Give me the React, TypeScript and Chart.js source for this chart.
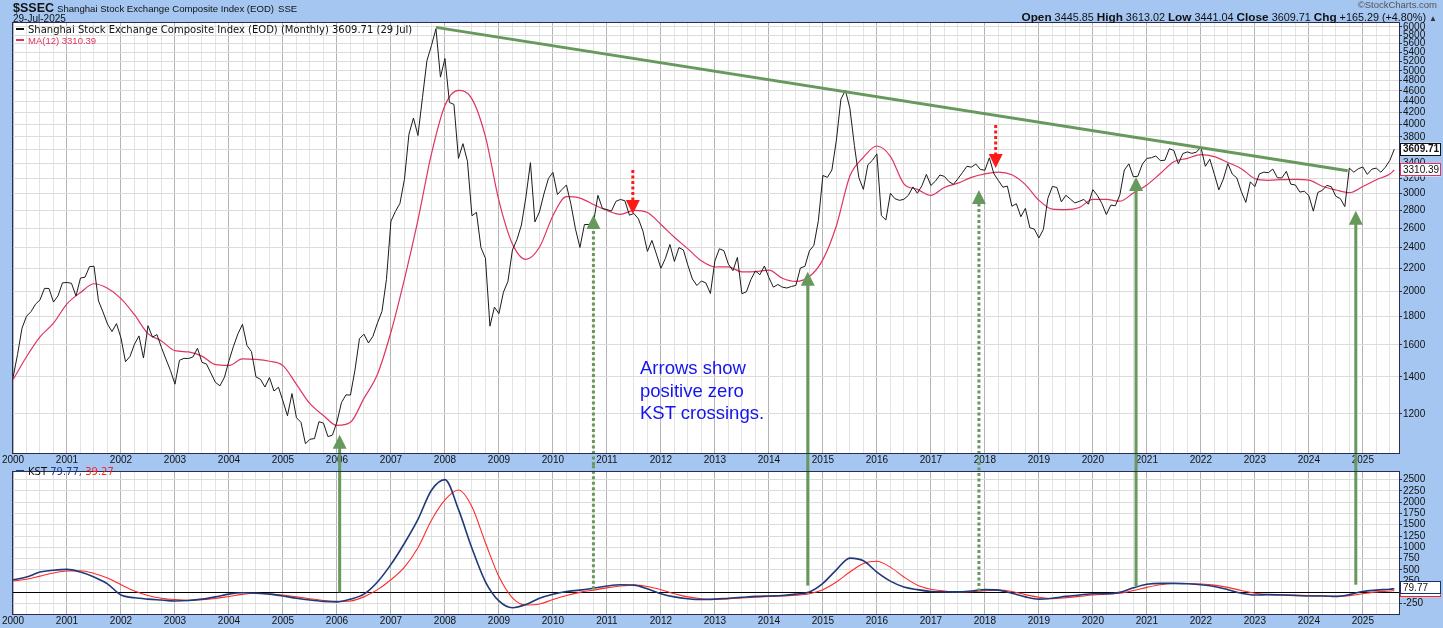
import React, { useEffect, useRef } from 'react';
import { Chart, registerables } from 'chart.js';

Chart.register(...registerables);

const SANS = '"Liberation Sans", Arial, sans-serif';
const VERD = '"DejaVu Sans", Verdana, sans-serif';

// ---------- data (monthly closes, first value = Dec 1999 close plotted on the 2000 line) ----------
const closes: number[] = [
  1395,
  1535, 1714, 1801, 1836, 1894, 1928, 2023, 2022, 1911, 1961, 2070, 2073,
  2066, 1960, 2112, 2119, 2214, 2218, 1920, 1834, 1744, 1690, 1747, 1646,
  1491, 1524, 1604, 1660, 1514, 1732, 1652, 1669, 1581, 1507, 1437, 1358,
  1500, 1512, 1511, 1521, 1577, 1487, 1477, 1421, 1368, 1349, 1398, 1497,
  1590, 1675, 1742, 1595, 1555, 1400, 1386, 1342, 1396, 1320, 1341, 1266,
  1191, 1306, 1181, 1159, 1060, 1080, 1083, 1162, 1155, 1092, 1099, 1161,
  1258, 1299, 1298, 1440, 1641, 1672, 1612, 1658, 1752, 1837, 2099, 2675,
  2786, 2881, 3183, 3841, 4109, 3820, 4471, 5218, 5552, 5955, 4871, 5262,
  4383, 4348, 3473, 3693, 3433, 2736, 2775, 2397, 2293, 1729, 1871, 1821,
  1991, 2082, 2373, 2477, 2633, 2959, 3412, 2667, 2779, 2996, 3195, 3277,
  2989, 3051, 3110, 2870, 2592, 2398, 2638, 2639, 2656, 2979, 2820, 2808,
  2790, 2905, 2928, 2912, 2743, 2762, 2701, 2568, 2359, 2469, 2333, 2199,
  2292, 2428, 2263, 2397, 2373, 2226, 2103, 2047, 2086, 2069, 1980, 2269,
  2385, 2366, 2237, 2178, 2301, 1979, 1994, 2098, 2175, 2141, 2220, 2116,
  2033, 2056, 2033, 2026, 2039, 2048, 2202, 2217, 2364, 2420, 2683, 3235,
  3210, 3310, 3748, 4442, 4612, 4277, 3664, 3206, 3053, 3383, 3445, 3539,
  2738, 2688, 3004, 2938, 2917, 2930, 2979, 3085, 3005, 3100, 3250, 3104,
  3159, 3242, 3223, 3155, 3117, 3192, 3273, 3361, 3349, 3393, 3317, 3307,
  3481, 3259, 3169, 3082, 3095, 2847, 2876, 2725, 2821, 2603, 2588, 2494,
  2585, 2941, 3091, 3078, 2899, 2979, 2933, 2886, 2905, 2929, 2871, 3050,
  2977, 2880, 2750, 2860, 2852, 2985, 3310, 3396, 3218, 3225, 3392, 3473,
  3483, 3509, 3441, 3447, 3615, 3591, 3397, 3544, 3568, 3547, 3564, 3640,
  3361, 3462, 3252, 3047, 3186, 3399, 3253, 3202, 3024, 2893, 3151, 3089,
  3256, 3280, 3273, 3323, 3205, 3202, 3291, 3120, 3110, 3019, 3030, 2975,
  2789, 3015, 3041, 3105, 3087, 2967, 2939, 2842, 3336, 3280, 3327, 3352,
  3250, 3321, 3336, 3279, 3347, 3444, 3609.71,
];

// MA(12) read at each quarter end (Dec 1999 ... Jun 2025), then the last value
const ma12: number[] = [
  1383,
  1522, 1653, 1751, 1897,
  1988, 2062, 2024, 1939,
  1813, 1676, 1626, 1561,
  1553, 1526, 1473, 1468,
  1509, 1506, 1494, 1467,
  1357, 1252, 1192, 1144,
  1159, 1280, 1415, 1687,
  2103, 2688, 3539, 4329,
  4609, 4450, 3802, 2913,
  2433, 2283, 2400, 2737,
  2962, 2945, 2868, 2796,
  2752, 2798, 2773, 2639,
  2502, 2384, 2268, 2211,
  2212, 2167, 2169, 2183,
  2110, 2082, 2125, 2280,
  2625, 3227, 3488, 3657,
  3504, 3125, 3054, 2978,
  3078, 3134, 3210, 3257,
  3281, 3244, 3114, 2920,
  2812, 2807, 2832, 2929,
  2928, 2907, 3007, 3110,
  3262, 3425, 3474, 3529,
  3499, 3414, 3328, 3193,
  3171, 3179, 3183, 3174,
  3093, 3046, 3012, 3090,
  3179, 3254,
];
const maLast = 3310.39;

// KST and its signal, read quarterly from 2000.0 to 2025.5, then the last values
const kst: number[] = [
  280, 340, 450, 490,
  510, 450, 340, 190,
  -60, -120, -150, -170,
  -190, -180, -150, -100,
  -40, -10, -20, -40,
  -80, -130, -170, -200,
  -210, -150, -40, 230,
  620, 1090, 1620, 2265,
  2500, 1840, 980, 235,
  -190, -340, -270, -130,
  -40, 20, 50, 90,
  140, 170, 160, 80,
  -30, -100, -140, -160,
  -150, -130, -110, -90,
  -80, -70, -40, 10,
  200, 500, 760, 700,
  450, 250, 120, 60,
  20, 10, 10, 30,
  60, 50, -20, -100,
  -150, -130, -90, -60,
  -30, -30, 0, 100,
  180, 200, 200, 190,
  170, 130, 60, -20,
  -60, -50, -60, -70,
  -80, -80, -90, -50,
  20, 50, 70,
];
const kstLast = 79.77;

const kstSignal: number[] = [
  250, 290, 360, 430,
  475, 480, 420, 320,
  170, 30, -70, -130,
  -160, -175, -165, -135,
  -90, -45, -20, -30,
  -60, -100, -140, -180,
  -200, -190, -100, 60,
  280, 560, 990, 1600,
  2050, 2270, 1900, 1100,
  350, -120, -280, -260,
  -160, -70, 0, 50,
  100, 140, 160, 130,
  60, -30, -100, -140,
  -155, -145, -125, -105,
  -90, -80, -65, -30,
  60, 230, 450, 640,
  690, 560, 340, 160,
  70, 30, 10, 15,
  35, 50, 20, -50,
  -110, -140, -120, -90,
  -60, -40, -20, 40,
  110, 170, 195, 195,
  185, 160, 110, 40,
  -20, -50, -55, -60,
  -70, -75, -85, -75,
  -30, 10, 30,
];
const signalLast = 39.27;

const priceTicks = [1200, 1400, 1600, 1800, 2000, 2200, 2400, 2600, 2800, 3000, 3200, 3400, 3600, 3800, 4000, 4200, 4400, 4600, 4800, 5000, 5200, 5400, 5600, 5800, 6000];
const kstTicks = [-250, 0, 250, 500, 750, 1000, 1250, 1500, 1750, 2000, 2250, 2500];

// annotations (data space)
const trendline = [
  { x: 2007.833, y: 5990 },
  { x: 2024.72, y: 3300 },
];
const upArrows = [
  { year: 2006.05, kst: 0, price: 1100, dotted: false },
  { year: 2010.75, kst: 70, price: 2746, dotted: true },
  { year: 2014.72, kst: 150, price: 2167, dotted: false },
  { year: 2017.89, kst: 20, price: 3047, dotted: true },
  { year: 2020.8, kst: 130, price: 3214, dotted: false },
  { year: 2024.87, kst: 170, price: 2793, dotted: false },
];
const downArrows = [
  { year: 2011.48, from: 3310, to: 2757 },
  { year: 2018.2, from: 3990, to: 3338 },
];

// ---------- helpers ----------
const X_MIN = 2000;
const X_MAX = 2025.67;
const monthX = (i: number) => X_MIN + i / 12;
const quarterX = (i: number) => X_MIN + i / 4;
const LAST_X = monthX(closes.length - 1);

const GREEN = '#67985c';
const ARROW_RED = '#ff1a1a';

function xAxis(height: number) {
  return {
    type: 'linear' as const,
    min: X_MIN,
    max: X_MAX,
    afterBuildTicks: (s: any) => {
      const t: any[] = [];
      for (let v = 2000; v <= 2025.5; v += 0.25) t.push({ value: v });
      s.ticks = t;
    },
    afterFit: (s: any) => {
      s.height = height;
    },
    ticks: {
      autoSkip: false,
      maxRotation: 0,
      minRotation: 0,
      padding: 1,
      color: '#111',
      font: { family: SANS, size: 10 },
      callback: (v: any) => (Number.isInteger(v) ? String(v) : ''),
    },
    grid: {
      drawTicks: false,
      color: (c: any) => (c.tick && Number.isInteger(c.tick.value) ? '#b4b4b4' : '#e3e3e3'),
    },
    border: { display: false },
  };
}

function yAxisRight(extra: any, ticks: number[]) {
  return {
    position: 'right' as const,
    ...extra,
    afterBuildTicks: (s: any) => {
      s.ticks = ticks.map((v) => ({ value: v }));
    },
    afterFit: (s: any) => {
      s.width = 44;
    },
    ticks: {
      autoSkip: false,
      padding: 1,
      color: '#111',
      font: { family: SANS, size: 10 },
      callback: (v: any) => String(v),
    },
    grid: {
      tickLength: 3,
      tickColor: '#333',
      color: (c: any) => (extra.zeroLine && c.tick && c.tick.value === 0 ? '#000' : '#dcdcdc'),
    },
    border: { display: false },
  };
}

function valueBox(ctx: CanvasRenderingContext2D, x: number, yc: number, text: string, border: string, bold: boolean) {
  const w = 41;
  const h = 13;
  ctx.save();
  ctx.fillStyle = '#fff';
  ctx.fillRect(x, yc - h / 2, w, h);
  ctx.strokeStyle = border;
  ctx.lineWidth = 1;
  ctx.strokeRect(Math.round(x) + 0.5, Math.round(yc - h / 2) + 0.5, w - 1, h - 1);
  ctx.fillStyle = '#111';
  ctx.font = `${bold ? 'bold ' : ''}10px ${SANS}`;
  ctx.textBaseline = 'middle';
  ctx.textAlign = 'left';
  ctx.fillText(text, x + 3, yc + 0.5);
  ctx.restore();
}

function vLine(ctx: CanvasRenderingContext2D, x: number, y1: number, y2: number, color: string, dotted: boolean) {
  ctx.save();
  ctx.strokeStyle = color;
  ctx.lineWidth = 3;
  ctx.setLineDash(dotted ? [3, 2.5] : []);
  ctx.beginPath();
  ctx.moveTo(x, y1);
  ctx.lineTo(x, y2);
  ctx.stroke();
  ctx.restore();
}

function head(ctx: CanvasRenderingContext2D, x: number, tip: number, dir: number, color: string) {
  // dir = 1 : pointing up, dir = -1 : pointing down
  ctx.save();
  ctx.fillStyle = color;
  ctx.beginPath();
  ctx.moveTo(x, tip);
  ctx.lineTo(x - 7, tip + dir * 14);
  ctx.lineTo(x + 7, tip + dir * 14);
  ctx.closePath();
  ctx.fill();
  ctx.restore();
}

const framePlugin = {
  id: 'frame',
  beforeDraw(chart: any) {
    const { ctx, chartArea: a } = chart;
    ctx.save();
    ctx.fillStyle = '#fff';
    ctx.fillRect(a.left, a.top, a.right - a.left, a.bottom - a.top);
    ctx.restore();
  },
  afterDraw(chart: any) {
    const { ctx, chartArea: a } = chart;
    ctx.save();
    ctx.strokeStyle = '#2c2c55';
    ctx.lineWidth = 1;
    ctx.strokeRect(Math.round(a.left) - 0.5, Math.round(a.top) - 0.5, Math.round(a.right - a.left) + 1, Math.round(a.bottom - a.top) + 1);
    ctx.restore();
  },
};

// ---------- component ----------
export default function App() {
  const topRef = useRef<HTMLCanvasElement>(null);
  const botRef = useRef<HTMLCanvasElement>(null);

  useEffect(() => {
    const priceData = closes.map((v, i) => ({ x: monthX(i), y: v }));
    const maData = [...ma12.map((v, i) => ({ x: quarterX(i), y: v })), { x: LAST_X, y: maLast }];
    const kstData = [...kst.map((v, i) => ({ x: quarterX(i), y: v })), { x: LAST_X, y: kstLast }];
    const sigData = [...kstSignal.map((v, i) => ({ x: quarterX(i), y: v })), { x: LAST_X, y: signalLast }];

    const topArrows = {
      id: 'topArrows',
      afterDatasetsDraw(chart: any) {
        const { ctx } = chart;
        const xs = chart.scales.x;
        const ys = chart.scales.y;
        for (const a of upArrows) {
          const px = xs.getPixelForValue(a.year);
          const tip = ys.getPixelForValue(a.price);
          vLine(ctx, px, chart.height, tip + 12, GREEN, a.dotted);
          head(ctx, px, tip, 1, GREEN);
        }
        for (const a of downArrows) {
          const px = xs.getPixelForValue(a.year);
          const y0 = ys.getPixelForValue(a.from);
          const tip = ys.getPixelForValue(a.to);
          vLine(ctx, px, y0, tip - 12, ARROW_RED, true);
          head(ctx, px, tip, -1, ARROW_RED);
        }
      },
      afterDraw(chart: any) {
        const { ctx, chartArea } = chart;
        const ys = chart.scales.y;
        valueBox(ctx, chartArea.right + 1, ys.getPixelForValue(maLast), maLast.toFixed(2), '#e0345f', false);
        valueBox(ctx, chartArea.right + 1, ys.getPixelForValue(closes[closes.length - 1]), closes[closes.length - 1].toFixed(2), '#111', true);
      },
    };

    const botArrows = {
      id: 'botArrows',
      afterDatasetsDraw(chart: any) {
        const { ctx } = chart;
        const xs = chart.scales.x;
        const ys = chart.scales.y;
        for (const a of upArrows) {
          const px = xs.getPixelForValue(a.year);
          vLine(ctx, px, ys.getPixelForValue(a.kst), 0, GREEN, a.dotted);
        }
      },
      afterDraw(chart: any) {
        const { ctx, chartArea } = chart;
        const ys = chart.scales.y;
        valueBox(ctx, chartArea.right + 1, ys.getPixelForValue(signalLast), '', '#ff2020', false);
        valueBox(ctx, chartArea.right + 1, ys.getPixelForValue(kstLast) - 1, kstLast.toFixed(2), '#1b2f6e', false);
      },
    };

    const top = new Chart(topRef.current!, {
      type: 'line',
      data: {
        datasets: [
          { data: trendline, borderColor: GREEN, borderWidth: 3, pointRadius: 0 },
          { data: priceData, borderColor: '#1c1c1c', borderWidth: 1, pointRadius: 0 },
          { data: maData, borderColor: '#e0345f', borderWidth: 1.2, pointRadius: 0, cubicInterpolationMode: 'monotone' },
        ] as any,
      },
      options: {
        responsive: false,
        animation: false,
        devicePixelRatio: 1,
        events: [],
        layout: { padding: { left: 13, top: 23, right: 0, bottom: 0 } },
        plugins: { legend: { display: false }, tooltip: { enabled: false } },
        scales: {
          x: xAxis(12) as any,
          y: yAxisRight({ type: 'logarithmic', min: 1020, max: 6100 }, priceTicks) as any,
        },
      },
      plugins: [framePlugin, topArrows],
    });

    const bot = new Chart(botRef.current!, {
      type: 'line',
      data: {
        datasets: [
          { data: kstData, borderColor: '#1f3a78', borderWidth: 1.6, pointRadius: 0, cubicInterpolationMode: 'monotone' },
          { data: sigData, borderColor: '#ff2a2a', borderWidth: 1.1, pointRadius: 0, cubicInterpolationMode: 'monotone' },
        ] as any,
      },
      options: {
        responsive: false,
        animation: false,
        devicePixelRatio: 1,
        events: [],
        layout: { padding: { left: 13, top: 1, right: 0, bottom: 0 } },
        plugins: { legend: { display: false }, tooltip: { enabled: false } },
        scales: {
          x: xAxis(14) as any,
          y: yAxisRight({ type: 'linear', min: -480, max: 2670, zeroLine: true }, kstTicks) as any,
        },
      },
      plugins: [framePlugin, botArrows],
    });

    return () => {
      top.destroy();
      bot.destroy();
    };
  }, []);

  const dash = (color: string) => (
    <span style={{ display: 'inline-block', width: 8, height: 2, background: color, verticalAlign: 'middle', marginRight: 4, position: 'relative', top: -1 }} />
  );

  return (
    <div style={{ position: 'fixed', left: 0, top: 0, width: 1443, height: 628, background: '#a4c6f0', overflow: 'hidden' }}>
      <canvas ref={topRef} width={1443} height={465} style={{ position: 'absolute', left: 0, top: 0, width: 1443, height: 465 }} />
      <canvas ref={botRef} width={1443} height={163} style={{ position: 'absolute', left: 0, top: 465, width: 1443, height: 163 }} />

      {/* header */}
      <div style={{ position: 'absolute', left: 13, top: 0, whiteSpace: 'nowrap', color: '#111', lineHeight: '14px' }}>
        <span style={{ font: `bold 12.5px ${SANS}` }}>$SSEC</span>
        <span style={{ font: `9.6px ${SANS}`, marginLeft: 3 }}>Shanghai Stock Exchange Composite Index (EOD)</span>
        <span style={{ font: `9.6px ${SANS}`, marginLeft: 4 }}>SSE</span>
      </div>
      <div style={{ position: 'absolute', left: 13, top: 13, whiteSpace: 'nowrap', color: '#111', font: `10px ${SANS}`, lineHeight: '11px' }}>29-Jul-2025</div>
      <div style={{ position: 'absolute', right: 6, top: 0, whiteSpace: 'nowrap', color: '#555', font: `9.5px ${SANS}`, lineHeight: '10px' }}>©StockCharts.com</div>
      <div style={{ position: 'absolute', right: 6, top: 11, whiteSpace: 'nowrap', color: '#111', font: `10.8px ${SANS}`, lineHeight: '12px' }}>
        <b style={{ fontSize: 11.8 }}>Open</b> 3445.85 <b style={{ fontSize: 11.8 }}>High</b> 3613.02 <b style={{ fontSize: 11.8 }}>Low</b> 3441.04{' '}
        <b style={{ fontSize: 11.8 }}>Close</b> 3609.71 <b style={{ fontSize: 11.8 }}>Chg</b> +165.29 (+4.80%) <span style={{ fontSize: 8, color: '#333' }}>▲</span>
      </div>

      {/* upper legend */}
      <div style={{ position: 'absolute', left: 16, top: 24, whiteSpace: 'nowrap', font: `10px ${VERD}`, lineHeight: '11px', color: '#111' }}>
        {dash('#111')}Shanghai Stock Exchange Composite Index (EOD) (Monthly) 3609.71 (29 Jul)
      </div>
      <div style={{ position: 'absolute', left: 16, top: 35, whiteSpace: 'nowrap', font: `9.5px ${SANS}`, lineHeight: '11px', color: '#e0345f' }}>
        {dash('#e0345f')}MA(12) 3310.39
      </div>

      {/* lower legend */}
      <div style={{ position: 'absolute', left: 16, top: 466, whiteSpace: 'nowrap', font: `10px ${VERD}`, lineHeight: '11px', color: '#111' }}>
        {dash('#1f3a78')}KST <span style={{ color: '#1f3a8f' }}>79.77,</span> <span style={{ color: '#ff2020' }}>39.27</span>
      </div>

      {/* annotation */}
      <div style={{ position: 'absolute', left: 640, top: 357, font: `18.5px ${SANS}`, lineHeight: '22.5px', color: '#1414ee', whiteSpace: 'nowrap' }}>
        Arrows show
        <br />
        positive zero
        <br />
        KST crossings.
      </div>
    </div>
  );
}
